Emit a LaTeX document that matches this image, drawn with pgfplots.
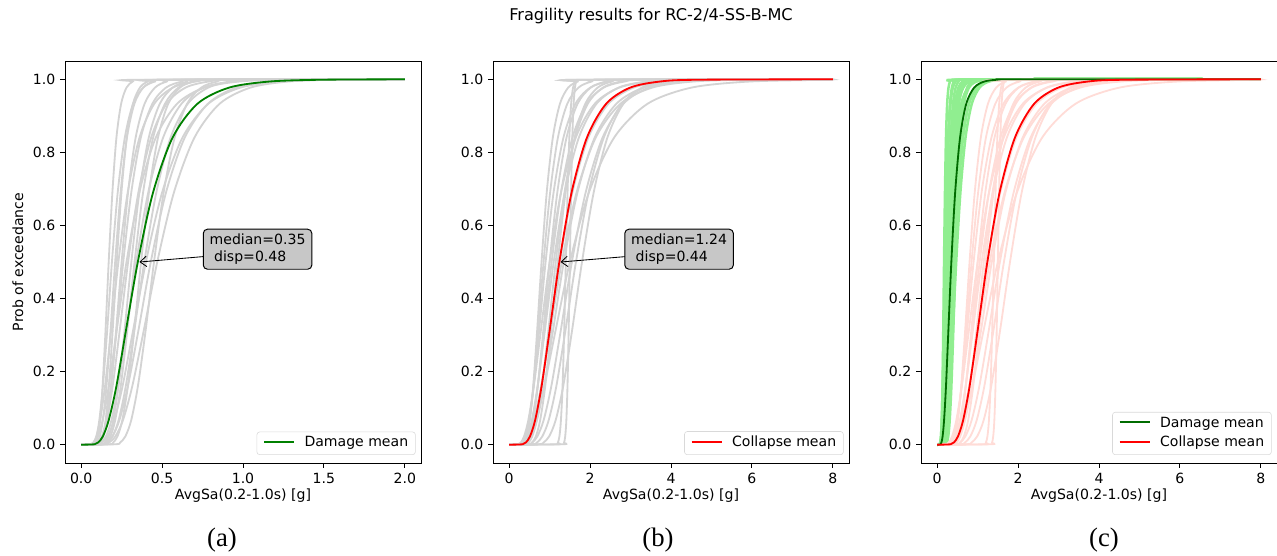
\documentclass[border=0pt]{standalone}
\usepackage{pgfplots}
\usepackage{pgfplotstable}
\pgfplotsset{compat=1.18}
\usetikzlibrary{arrows.meta}
\usepackage{fontspec}
\setmainfont{DejaVu Sans}
\newfontfamily\capfont{Liberation Serif}

\definecolor{lgrey}{RGB}{211,211,211}
\definecolor{lgreen}{RGB}{144,238,144}
\definecolor{mrose}{RGB}{255,220,215}
\definecolor{meangreen}{RGB}{0,128,0}
\definecolor{darkmeangreen}{RGB}{0,108,0}
\definecolor{meanred}{RGB}{255,0,0}

% damage fragilities: probability column p, one x column per curve
\pgfplotstableread{
p      d1    d2    d3    d4    d5    d6    d7    d8    d9    d10   d11   d12   d13   d14   d15   d16   d17   d18   dm
0      0     0     0     0     0     0     0     0     0     0     0     0     0     0     0     0     0     0     0
0.0013 0.080 0.066 0.085 0.060 0.091 0.062 0.126 0.102 0.175 0.104 0.213 0.142 0.104 0.102 0.087 0.134 0.136 0.130 0.083
0.0062 0.091 0.079 0.099 0.075 0.108 0.080 0.146 0.125 0.198 0.130 0.241 0.173 0.118 0.118 0.107 0.156 0.163 0.158 0.105
0.0228 0.103 0.094 0.115 0.094 0.129 0.103 0.170 0.153 0.224 0.163 0.273 0.211 0.133 0.137 0.130 0.181 0.194 0.193 0.134
0.0668 0.117 0.112 0.134 0.117 0.154 0.132 0.198 0.187 0.254 0.204 0.309 0.258 0.151 0.159 0.159 0.210 0.231 0.236 0.170
0.1587 0.132 0.134 0.156 0.147 0.183 0.170 0.230 0.228 0.288 0.255 0.350 0.315 0.171 0.185 0.194 0.244 0.275 0.288 0.217
0.3085 0.150 0.160 0.181 0.184 0.218 0.218 0.267 0.278 0.327 0.319 0.397 0.385 0.194 0.215 0.237 0.284 0.327 0.352 0.275
0.5    0.170 0.190 0.210 0.230 0.260 0.280 0.310 0.340 0.370 0.400 0.450 0.470 0.220 0.250 0.290 0.330 0.390 0.430 0.350
0.6915 0.193 0.226 0.244 0.288 0.310 0.360 0.360 0.415 0.419 0.501 0.510 0.574 0.249 0.290 0.354 0.383 0.465 0.525 0.445
0.8413 0.218 0.270 0.283 0.361 0.369 0.462 0.418 0.507 0.475 0.627 0.578 0.701 0.282 0.337 0.433 0.445 0.553 0.641 0.566
0.9332 0.247 0.321 0.329 0.452 0.440 0.593 0.486 0.620 0.538 0.786 0.655 0.856 0.320 0.392 0.528 0.518 0.659 0.784 0.719
0.9772 0.280 0.383 0.383 0.566 0.524 0.761 0.565 0.757 0.610 0.984 0.742 1.046 0.363 0.456 0.645 0.601 0.785 0.957 0.914
0.9938 0.318 0.456 0.445 0.708 0.624 0.977 0.656 0.924 0.691 1.232 0.841 1.278 0.411 0.529 0.788 0.699 0.936 1.169 1.162
0.9987 0.360 0.543 0.517 0.887 0.743 1.255 0.762 1.129 0.783 1.543 0.953 1.560 0.466 0.615 0.963 0.812 1.115 1.428 1.477
1      2     2     2     2     2     2     2     2     2     2     2     2     2     2     2     2     2     2     2
1      8     8     8     8     8     8     8     8     8     8     8     8     8     8     8     8     8     8     8
}\damagetab

% collapse fragilities
\pgfplotstableread{
p      c1    c2    c3    c4    c5    c6    c7    c8    c9    c10   c11   c12   c13   c14   c15   c16   c17   c18   cmean
0      0     0     0     0     0     0     0     0     0     0     0     0     0     0     0     0     0     0     0
0.0013 0.325 0.271 0.350 0.285 0.488 0.290 0.288 0.467 0.732 1.169 1.330 0.324 0.297 0.316 0.402 0.350 0.577 0.223 0.331
0.0062 0.378 0.331 0.417 0.357 0.567 0.372 0.379 0.570 0.850 1.205 1.357 0.406 0.354 0.386 0.479 0.438 0.688 0.287 0.413
0.0228 0.439 0.404 0.497 0.447 0.659 0.478 0.499 0.696 0.988 1.242 1.385 0.508 0.422 0.472 0.571 0.549 0.819 0.368 0.514
0.0668 0.510 0.494 0.592 0.560 0.765 0.614 0.657 0.851 1.148 1.279 1.413 0.637 0.503 0.576 0.680 0.687 0.976 0.472 0.641
0.1587 0.593 0.603 0.705 0.701 0.889 0.788 0.865 1.039 1.333 1.319 1.441 0.797 0.599 0.704 0.810 0.861 1.163 0.607 0.799
0.3085 0.689 0.737 0.840 0.878 1.033 1.012 1.139 1.269 1.549 1.359 1.470 0.998 0.714 0.860 0.965 1.078 1.385 0.779 0.995
0.5    0.800 0.900 1.000 1.100 1.200 1.300 1.500 1.550 1.800 1.400 1.500 1.250 0.850 1.050 1.150 1.350 1.650 1.000 1.240
0.6915 0.929 1.099 1.191 1.378 1.394 1.669 1.975 1.893 2.091 1.443 1.530 1.565 1.013 1.282 1.370 1.691 1.965 1.284 1.545
0.8413 1.080 1.343 1.419 1.725 1.620 2.143 2.600 2.312 2.430 1.487 1.561 1.960 1.206 1.566 1.632 2.117 2.342 1.649 1.925
0.9332 1.255 1.640 1.691 2.160 1.882 2.752 3.423 2.824 2.823 1.532 1.593 2.455 1.437 1.913 1.944 2.651 2.789 2.117 2.399
0.9772 1.458 2.003 2.014 2.706 2.187 3.534 4.506 3.450 3.280 1.579 1.625 3.075 1.712 2.337 2.316 3.320 3.323 2.718 2.990
0.9938 1.694 2.446 2.399 3.388 2.540 4.537 5.933 4.213 3.811 1.627 1.658 3.850 2.039 2.854 2.759 4.158 3.958 3.490 3.725
0.9987 1.968 2.988 2.858 4.243 2.952 5.826 7.811 5.146 4.427 1.676 1.691 4.822 2.429 3.486 3.286 5.207 4.715 4.482 4.642
1      8     8     8     8     8     8     8     8     8     8     8     8     8     8     8     8     8     8     8
}\collapsetab

\newcommand{\legline}[1]{\textcolor{#1}{\rule[0.55ex]{7.5mm}{1.3pt}}\hspace{2.6mm}}

\tikzset{
  annot/.style={draw=black, fill=black!22, rounded corners=3pt, line width=0.7pt,
    align=left, font=\fontsize{10}{12}\selectfont, inner xsep=1.6mm, inner ysep=1.2mm},
  annarrow/.style={-{Straight Barb[length=1.6mm, width=2.6mm]}, line width=0.6pt, black},
  legbox/.style={draw=black!15, fill=white, rounded corners=2pt, anchor=south east,
    align=left, font=\fontsize{10}{14}\selectfont, inner xsep=1.8mm, inner ysep=1.2mm},
}

\pgfplotsset{
  /pgf/number format/assume math mode=true,
  frag/.style={
    width=89mm, height=100.5mm, scale only axis,
    anchor=south west,
    ymin=-0.05, ymax=1.05,
    ytick={0,0.2,0.4,0.6,0.8,1.0},
    yticklabel style={/pgf/number format/.cd, fixed, fixed zerofill, precision=1},
    tick pos=left, tick align=outside,
    major tick length=1.2mm,
    every tick/.style={black, line width=0.6pt},
    axis line style={line width=0.6pt},
    ticklabel style={font=\fontsize{10}{12}\selectfont},
    label style={font=\fontsize{10}{12}\selectfont},
    xlabel={AvgSa(0.2-1.0s) [g]},
    xlabel style={yshift=1mm},
  },
  grey/.style={lgrey, line width=1.3pt, smooth, forget plot},
  meanline/.style={color=#1, line width=1.3pt, smooth, forget plot},
}

\begin{document}
\begin{tikzpicture}
\useasboundingbox (0,0) rectangle (319.25mm,-138.75mm);

\node at (162.75mm,-3.9mm) {\fontsize{11.5}{14}\selectfont Fragility results for RC-2/4-SS-B-MC};

% (a) damage
\begin{axis}[frag, at={(16.25mm,-115.75mm)},
  xmin=-0.1, xmax=2.1, xtick={0,0.5,1.0,1.5,2.0},
  xticklabel style={/pgf/number format/.cd, fixed, fixed zerofill, precision=1},
  ylabel={Prob of exceedance},
  restrict x to domain=0:2.01]
\pgfplotsinvokeforeach{1,...,18}{\addplot[grey] table[x=d#1, y=p] {\damagetab};}
\addplot[meanline=meangreen] table[x=dm, y=p] {\damagetab};
\draw[annarrow] (axis cs:0.76,0.515) -- (axis cs:0.36,0.5);
\node[annot] at (axis cs:1.09,0.535) {median=0.35\\\ disp=0.48};
\node[legbox] at (rel axis cs:0.985,0.02) {\legline{meangreen}Damage mean};
\end{axis}

% (b) collapse
\begin{axis}[frag, at={(123.25mm,-115.75mm)},
  xmin=-0.4, xmax=8.4, xtick={0,2,4,6,8}]
\pgfplotsinvokeforeach{1,...,18}{\addplot[grey] table[x=c#1, y=p] {\collapsetab};}
\addplot[meanline=meanred] table[x=cmean, y=p] {\collapsetab};
\draw[annarrow] (axis cs:2.9,0.515) -- (axis cs:1.27,0.5);
\node[annot] at (axis cs:4.2,0.535) {median=1.24\\\ disp=0.44};
\node[legbox] at (rel axis cs:0.985,0.02) {\legline{meanred}Collapse mean};
\end{axis}

% (c) both
\begin{axis}[frag, at={(230.25mm,-115.75mm)},
  xmin=-0.4, xmax=8.4, xtick={0,2,4,6,8}]
\pgfplotsinvokeforeach{1,...,18}{\addplot[grey, lgreen, line width=1.8pt] table[x=d#1, y=p] {\damagetab};}
\pgfplotsinvokeforeach{1,...,18}{\addplot[grey, mrose] table[x=c#1, y=p] {\collapsetab};}
\addplot[meanline=darkmeangreen] table[x=dm, y=p] {\damagetab};
\addplot[meanline=meanred] table[x=cmean, y=p] {\collapsetab};
\node[legbox] at (rel axis cs:0.985,0.02) {\legline{darkmeangreen}Damage mean\\\legline{meanred}Collapse mean};
\end{axis}

\node at (55.5mm,-135mm) {\capfont\fontsize{19}{22}\selectfont (a)};
\node at (164.5mm,-135mm) {\capfont\fontsize{19}{22}\selectfont (b)};
\node at (276mm,-135mm) {\capfont\fontsize{19}{22}\selectfont (c)};
\end{tikzpicture}
\end{document}
